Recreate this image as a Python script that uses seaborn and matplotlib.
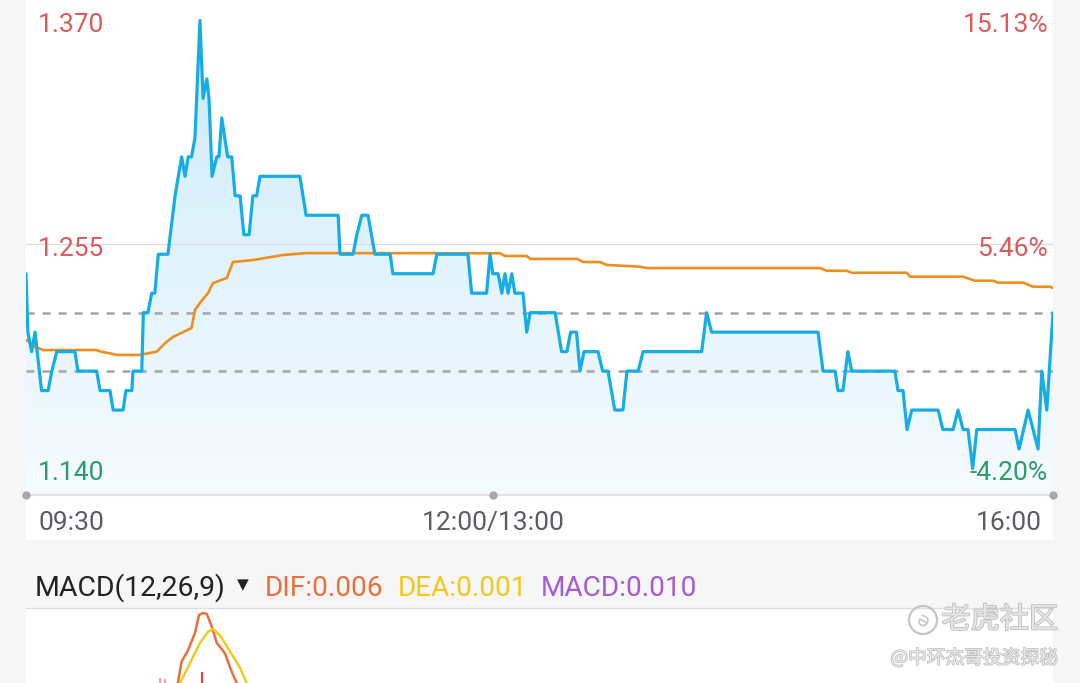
import numpy as np
import pandas as pd
import matplotlib
matplotlib.use('Agg')
import matplotlib.pyplot as plt
import seaborn as sns
from matplotlib.colors import LinearSegmentedColormap
from matplotlib.patches import Rectangle, Ellipse
import matplotlib.patheffects as pe

sns.set_style('white')
plt.rcParams['font.family'] = ['Roboto', 'Noto Sans CJK SC', 'DejaVu Sans']

# trading minutes since 09:30 (09:30-12:00, 13:00-16:00 -> 0..330)
blue_t = [0.0, 0.6, 1.8, 2.9, 5.0, 7.1, 8.3, 9.9, 15.7, 16.7, 22.7, 23.8, 27.0, 28.0, 31.2, 32.1,
          34.0, 34.4, 37.2, 37.7, 39.2, 40.4, 41.4, 42.5, 45.6, 47.9, 50.0, 51.1, 52.1, 53.2,
          54.3, 55.9, 56.9, 58.1, 58.8, 59.8, 61.3, 62.0, 62.9, 64.8, 66.1, 67.2, 68.8, 70.0,
          71.7, 72.9, 74.1, 75.2, 88.0, 90.0, 100.3, 100.9, 105.1, 106.3, 107.9, 109.9, 112.1,
          117.0, 117.9, 130.8, 132.0, 142.0, 143.2, 148.0, 149.1, 150.0, 151.7, 152.9, 153.9,
          154.9, 156.1, 157.1, 159.7, 160.9, 162.0, 170.0, 172.1, 173.8, 175.0, 176.9, 178.0,
          179.3, 183.8, 185.3, 187.0, 189.2, 191.8, 193.1, 196.7, 198.3, 217.1, 218.7, 220.3,
          254.5, 256.1, 260.0, 260.9, 262.5, 264.1, 265.3, 279.2, 280.2, 281.8, 283.1, 284.6,
          293.1, 294.6, 297.9, 299.5, 301.1, 302.7, 304.2, 305.5, 317.8, 319.1, 322.0, 323.6,
          325.2, 326.4, 328.0, 330.0]
blue_p = [1.240, 1.210, 1.200, 1.210, 1.180, 1.180, 1.190, 1.200, 1.200, 1.190, 1.190, 1.180,
          1.180, 1.170, 1.170, 1.180, 1.180, 1.190, 1.190, 1.220, 1.220, 1.230, 1.230, 1.250,
          1.250, 1.280, 1.300, 1.290, 1.300, 1.300, 1.310, 1.370, 1.330, 1.340, 1.330, 1.290,
          1.300, 1.300, 1.320, 1.300, 1.300, 1.280, 1.280, 1.260, 1.260, 1.280, 1.280, 1.290,
          1.290, 1.270, 1.270, 1.250, 1.250, 1.260, 1.270, 1.270, 1.250, 1.250, 1.240, 1.240,
          1.250, 1.250, 1.230, 1.230, 1.250, 1.240, 1.240, 1.230, 1.240, 1.230, 1.240, 1.230,
          1.230, 1.210, 1.220, 1.220, 1.200, 1.200, 1.210, 1.210, 1.190, 1.200, 1.200, 1.190,
          1.190, 1.170, 1.170, 1.190, 1.190, 1.200, 1.200, 1.220, 1.210, 1.210, 1.190, 1.190,
          1.180, 1.180, 1.200, 1.190, 1.190, 1.180, 1.180, 1.160, 1.170, 1.170, 1.160, 1.160,
          1.170, 1.160, 1.160, 1.140, 1.160, 1.160, 1.150, 1.170, 1.160, 1.150, 1.190, 1.170,
          1.220]

avg_t = [0.2, 2.9, 5.5, 22.7, 24.0, 27.0, 29.1, 36.6, 42.0, 45.2, 47.2, 53.2, 54.3, 55.9,
         58.5, 60.1, 64.5, 66.5, 72.9, 82.6, 90.2, 152.3, 153.9, 160.9, 162.0, 177.0, 179.0,
         184.4, 186.6, 197.3, 199.5, 255.1, 257.3, 263.7, 265.3, 283.0, 284.1, 301.1, 304.9,
         310.7, 312.3, 320.4, 323.6, 329.0, 330.0]
avg_p = [1.2060, 1.2025, 1.2008, 1.2008, 1.2000, 1.1991, 1.1983, 1.1983, 1.2000, 1.2051,
         1.2075, 1.2121, 1.2214, 1.2250, 1.2301, 1.2352, 1.2378, 1.2460, 1.2470, 1.2496,
         1.2506, 1.2505, 1.2491, 1.2491, 1.2476, 1.2476, 1.2460, 1.2460, 1.2445, 1.2436,
         1.2429, 1.2429, 1.2415, 1.2415, 1.2405, 1.2405, 1.2385, 1.2385, 1.2364, 1.2364,
         1.2354, 1.2354, 1.2333, 1.2333, 1.2327]

prev_close = 1.190
last_price = 1.220
price_ticks = [1.370, 1.255, 1.140]
time_ticks = [0, 150, 330]
time_labels = ['09:30', '12:00/13:00', '16:00']

# MACD (visible part only)
dif_t = [46.3, 48.8, 50.0, 52.1, 54.3, 55.6, 56.8, 58.1, 59.7, 61.3, 63.9, 66.1, 67.7, 72.0]
dif_v = [0.0040, 0.0112, 0.0181, 0.0218, 0.0273, 0.0331, 0.0337, 0.0334, 0.0293, 0.0241,
         0.0208, 0.0148, 0.0112, 0.0040]
dea_t = [46.3, 49.5, 52.7, 55.9, 58.5, 60.1, 62.3, 65.6, 68.8, 70.9, 73.6]
dea_v = [0.0041, 0.0112, 0.0176, 0.0241, 0.0277, 0.0286, 0.0266, 0.0213, 0.0160, 0.0112, 0.0057]
hist_t = [43.1, 44.7, 49.5, 56.5]
hist_v = [0.0128, 0.0125, 0.0115, 0.0147]
hist_c = ['#f3a0a8', '#f3a0a8', '#f6c0c4', '#e8434a']
macd_name = 'MACD(12,26,9)'
dif_last, dea_last, macd_last = 0.006, 0.001, 0.010

df_blue = pd.DataFrame({'t': blue_t, 'p': blue_p})
df_avg = pd.DataFrame({'t': avg_t, 'p': avg_p})

W, H = 1080, 683
fig = plt.figure(figsize=(W / 100, H / 100), dpi=100)
fig.patch.set_facecolor('#f6f6f6')

L, R = 26, 1053
fig.patches.append(Rectangle((L / W, 1 - 540 / H), (R - L) / W, 540 / H,
                             transform=fig.transFigure, facecolor='white', edgecolor='none', zorder=-1))
fig.patches.append(Rectangle((L / W, 0), (R - L) / W, 1 - 609 / H,
                             transform=fig.transFigure, facecolor='white', edgecolor='none', zorder=-1))

ax = fig.add_axes([L / W, 1 - 495 / H, (R - L) / W, 495 / H])
ax.set_facecolor('white')
ymin, ymax = 1.12639, 1.38052

# gradient fill under price line
poly = ax.fill_between(blue_t, blue_p, ymin, color='none', lw=0)
grad = np.linspace(0, 1, 256).reshape(-1, 1)
cmap = LinearSegmentedColormap.from_list('g', ['#f6fbfe', '#cbeafa'])
im = ax.imshow(grad, extent=[0, 330, ymin, ymax], origin='lower', aspect='auto', cmap=cmap, zorder=1)
im.set_clip_path(poly.get_paths()[0], transform=ax.transData)

ax.axhline(1.255, color='#dcdce0', lw=0.9, zorder=2)
ax.axhline(last_price, color='#a3a3ab', lw=1.8, ls=(0, (3.2, 3.2)), zorder=2)
ax.axhline(prev_close, color='#a3a3ab', lw=1.8, ls=(0, (3.2, 3.2)), zorder=2)

sns.lineplot(data=df_avg, x='t', y='p', ax=ax, color='#ef8e1f', lw=1.9, sort=False,
             estimator=None, zorder=3)
sns.lineplot(data=df_blue, x='t', y='p', ax=ax, color='#16ade6', lw=2.3, sort=False,
             estimator=None, zorder=4)

ax.set_xlim(0, 330)
ax.set_ylim(ymin, ymax)
ax.set_xticks([])
ax.set_yticks([])
ax.set_xlabel('')
ax.set_ylabel('')
for s in ['top', 'left', 'right']:
    ax.spines[s].set_visible(False)
ax.spines['bottom'].set_color('#e2e2e8')
ax.spines['bottom'].set_linewidth(1.6)
ax.plot(time_ticks, [ymin] * 3, 'o', color='#a8a8ae', ms=5, clip_on=False, zorder=5)

red, green = '#dc5a5a', '#2a9d68'
for p in price_ticks:
    c = green if p < prev_close else red
    pct = (p / prev_close - 1) * 100
    ax.annotate(f'{p:.3f}', xy=(0, p), xytext=(12, -5), textcoords='offset pixels',
                ha='left', va='center', fontsize=19, color=c, zorder=6)
    ax.annotate(f'{pct:.2f}%', xy=(330, p), xytext=(-5, -5), textcoords='offset pixels',
                ha='right', va='center', fontsize=19, color=c, zorder=6)

for t, lab, ha, dx in zip(time_ticks, time_labels, ['left', 'center', 'right'], [12, 0, -11]):
    ax.annotate(lab, xy=(t, 0), xycoords=('data', 'axes fraction'), xytext=(dx, -28),
                textcoords='offset pixels', ha=ha, va='center', fontsize=19, color='#5c5c66',
                annotation_clip=False)

# MACD header
hy = 1 - 588 / H
fig.text(35 / W, hy, macd_name, fontsize=20.4, color='#222222', va='center')
fig.text(237 / W, hy + 3 / H, '▼', fontsize=11, color='#222222', va='center', family='DejaVu Sans')
fig.text(265 / W, hy, f'DIF:{dif_last:.3f}', fontsize=20.2, color='#ea6f3c', va='center')
fig.text(398 / W, hy, f'DEA:{dea_last:.3f}', fontsize=20.2, color='#f2c81d', va='center')
fig.text(541 / W, hy, f'MACD:{macd_last:.3f}', fontsize=20.2, color='#a25ad6', va='center')
fig.lines.append(plt.Line2D([L / W, R / W], [1 - 608 / H] * 2, transform=fig.transFigure,
                            color='#dedede', lw=1))

# MACD panel (extends below the visible area)
ax2 = fig.add_axes([L / W, 1 - 780 / H, (R - L) / W, (780 - 609) / H])
ax2.set_facecolor('white')
ax2.vlines(hist_t, 0, hist_v, colors=hist_c, lw=1.6)
sns.lineplot(x=dif_t, y=dif_v, ax=ax2, color='#ea6f3c', lw=1.8, sort=False, estimator=None)
sns.lineplot(x=dea_t, y=dea_v, ax=ax2, color='#f2cb1d', lw=1.8, sort=False, estimator=None)
ax2.set_xlim(0, 330)
ax2.set_ylim(-0.02, 0.035)
ax2.set_xticks([])
ax2.set_yticks([])
for s in ax2.spines.values():
    s.set_visible(False)

# watermark
wm = [pe.withStroke(linewidth=1.2, foreground='#bcbcbc')]
fig.patches.append(Ellipse((923 / W, 1 - 620 / H), 28 / W, 28 / H, transform=fig.transFigure,
                           facecolor='none', edgecolor='#c4c4c4', lw=1.6, zorder=5))
fig.text(923 / W, 1 - 621 / H, 'ə', fontsize=14, color='#c4c4c4', ha='center', va='center',
         family='DejaVu Sans', rotation=-30)
fig.text(1058 / W, 1 - 620 / H, '老虎社区', fontsize=21, color='#e6e6e6', ha='right',
         va='center', family=['Noto Sans CJK SC'], path_effects=wm, style='italic')
fig.text(1058 / W, 1 - 658 / H, '@中环杰哥投资探秘', fontsize=13.5, color='#e8e8e8', ha='right',
         va='center', family=['Noto Sans CJK SC', 'DejaVu Sans'],
         path_effects=[pe.withStroke(linewidth=1, foreground='#bcbcbc')])

fig.savefig('out.png', dpi=100, facecolor=fig.get_facecolor())
